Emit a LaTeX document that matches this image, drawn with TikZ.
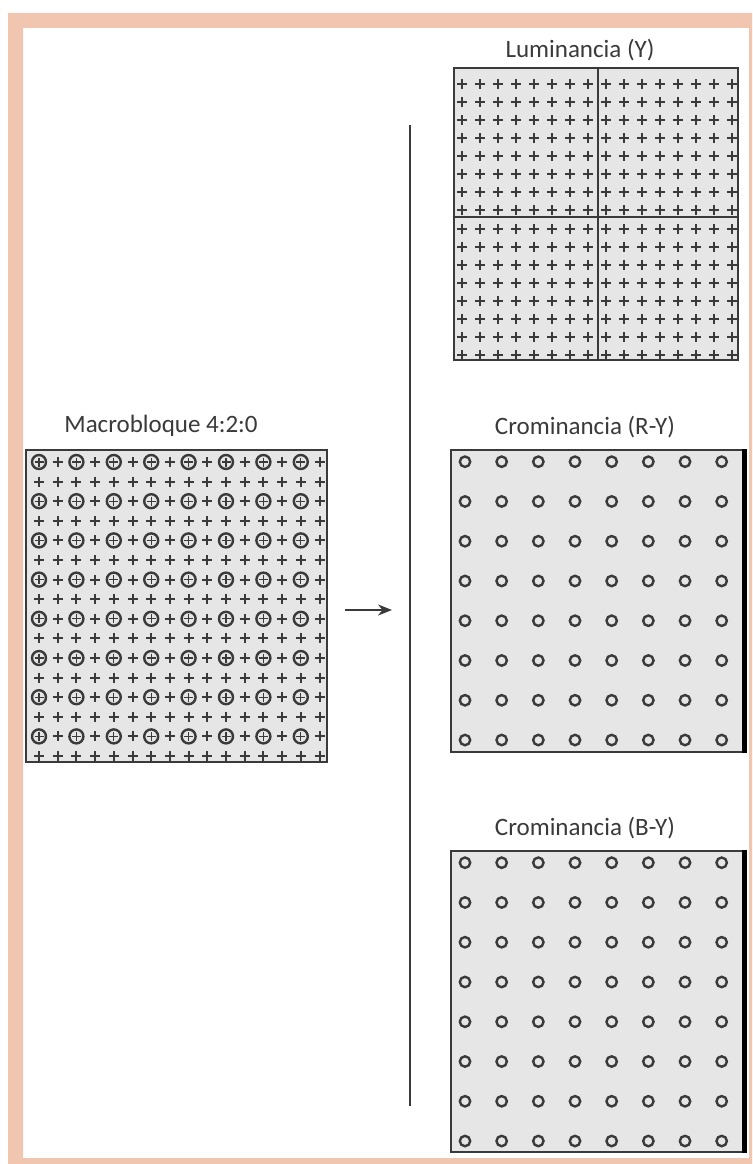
\documentclass[tikz,border=0pt]{standalone}
\usepackage{fontspec}
\setmainfont{Carlito}
\usetikzlibrary{arrows.meta}
\definecolor{salmon}{HTML}{F1C6B1}
\definecolor{boxfill}{HTML}{E6E6E6}
\definecolor{ink}{HTML}{3A3A3A}
\definecolor{shade}{HTML}{7A7A7A}
\begin{document}
\begin{tikzpicture}[x=1pt,y=-1pt,
  panel/.style={draw=ink, line width=2pt, fill=boxfill, inner sep=0pt},
  lbl/.style={text=ink, font=\fontsize{25}{30}\selectfont, anchor=base, inner sep=0pt},
  pl/.style={draw=ink, line width=2pt},
  ringmark/.style={draw=ink, line width=2.4pt},
  divider/.style={draw=ink, line width=2pt},
  conn/.style={draw=ink, line width=2pt, -{Stealth[length=14pt,width=11pt]}},
]
\useasboundingbox (0,0) rectangle (752,1164);
\fill[white] (0,0) rectangle (752,1164);
\fill[salmon, even odd rule] (8,13) rectangle (752,1164) (23,28) rectangle (749,1158);

% panels
\node[panel, minimum width=301pt, minimum height=312pt] (mb) at (176.5,606) {};
\node[panel, minimum width=284pt, minimum height=292pt] (luma) at (596,214) {};
\node[panel, minimum width=294pt, minimum height=302pt] (cr) at (598,601) {};
\node[panel, minimum width=294pt, minimum height=301pt] (cb) at (598,1001.5) {};

% labels
\node[lbl] (lumalbl) at (580,57) {Luminancia (Y)};
\node[lbl] (mblbl) at (161,432) {Macrobloque 4:2:0};
\node[lbl] (crlbl) at (585,434) {Crominancia (R-Y)};
\node[lbl] (cblbl) at (585,835) {Crominancia (B-Y)};

% luma quadrant lines
\draw[divider] (598,68) -- (598,360);
\draw[divider] (454,217) -- (738,217);

% luma samples
\foreach \i in {0,...,15}{
  \foreach \j in {0,...,15}{
    \pgfmathsetmacro{\px}{462+18*\i}
    \pgfmathsetmacro{\py}{84+18.07*\j}
    \draw[pl] (\px-5,\py) -- (\px+5,\py) (\px,\py-5) -- (\px,\py+5);
  }}

% macroblock samples
\foreach \i in {0,...,15}{
  \foreach \j in {0,...,15}{
    \pgfmathsetmacro{\px}{39+18.7*\i}
    \pgfmathsetmacro{\py}{462+19.6*\j}
    \pgfmathtruncatemacro{\isring}{(mod(\i,2)==0)&&(mod(\j,2)==0)}
    \ifnum\isring=1
      \draw[ringmark] (\px,\py) circle[radius=7];
      \draw[pl, line width=1.3pt] (\px-4.5,\py) -- (\px+4.5,\py) (\px,\py-4.5) -- (\px,\py+4.5);
    \else
      \draw[pl] (\px-5,\py) -- (\px+5,\py) (\px,\py-5) -- (\px,\py+5);
    \fi
  }}

% chroma samples
\foreach \i in {0,...,7}{
  \foreach \j in {0,...,7}{
    \pgfmathsetmacro{\px}{465+36.67*\i}
    \pgfmathsetmacro{\py}{461.7+39.76*\j}
    \draw[ringmark] (\px,\py) circle[radius=5.2];
    \draw[ringmark] (\px,\py+401) circle[radius=5.2];
  }}

% heavy right edges of chroma panels
\draw[shade, line width=4.5pt] ([xshift=-1.5pt]cr.north east) -- ([xshift=-1.5pt]cr.south east);
\draw[shade, line width=4.5pt] ([xshift=-1.5pt]cb.north east) -- ([xshift=-1.5pt]cb.south east);

% separator and arrow
\coordinate (vtop) at (410,125);
\coordinate (vbot) at (410,1106);
\draw[divider] (vtop) -- (vbot);
\coordinate (astart) at (345,610);
\coordinate (aend) at (392,610);
\draw[conn] (astart) -- (aend);
\end{tikzpicture}
\end{document}
